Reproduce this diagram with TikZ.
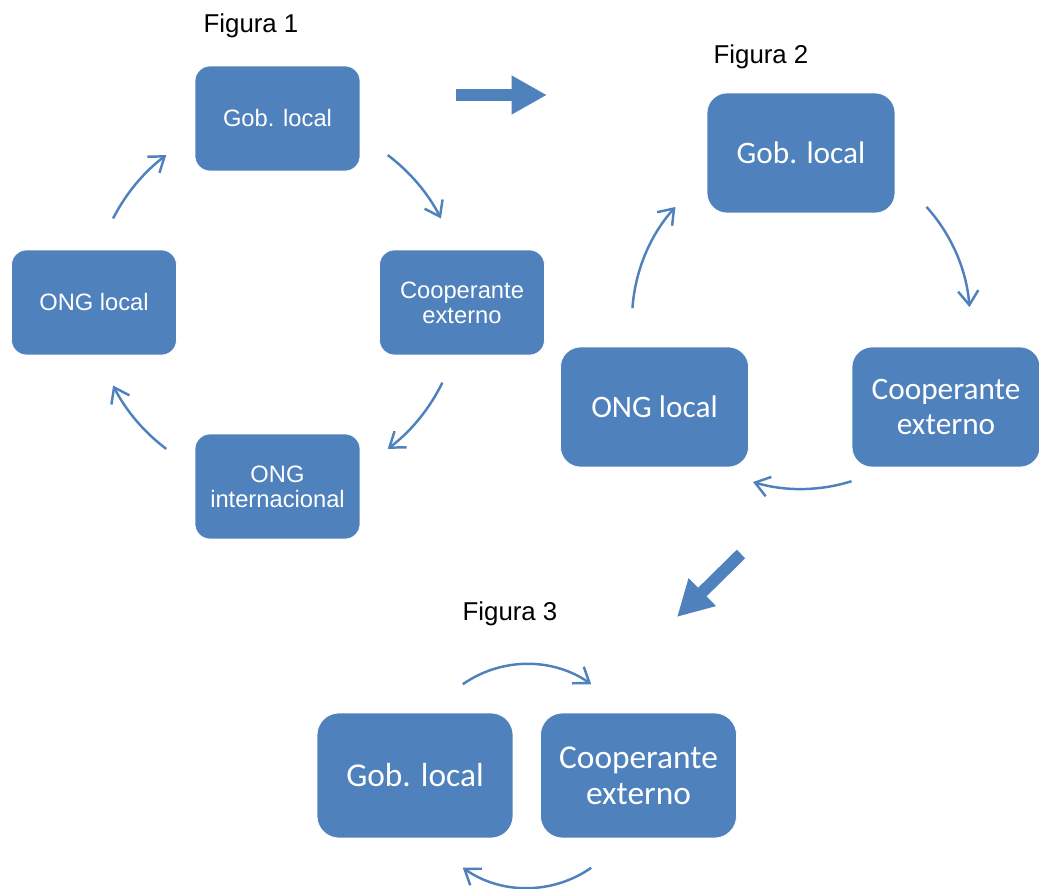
\documentclass[tikz,border=0pt]{standalone}
\usepackage{fontspec}
\setmainfont{Liberation Sans}
\newfontfamily\calibri{Carlito}
\usepackage{xcolor}
\usepackage{tikz}
\usetikzlibrary{calc,arrows.meta}

\definecolor{azul}{HTML}{4F81BD}

\tikzset{
	caja/.style={fill=azul,draw=white,line width=0.4pt,rounded corners=0.3cm,
		text=white,align=center,inner sep=0pt},
	cajaA/.style={caja,minimum width=3.3cm,minimum height=2.1cm,
		font=\fontsize{13.5}{14.2}\selectfont},
	cajaB/.style={caja,rounded corners=0.4cm,minimum width=3.76cm,minimum height=2.4cm,
		font=\calibri\fontsize{17.8}{19.8}\selectfont},
	cajaC/.style={caja,rounded corners=0.44cm,minimum width=3.92cm,minimum height=2.5cm,
		font=\calibri\fontsize{19}{20.4}\selectfont},
	flecha/.style={draw=azul,line width=1.4pt,-{Straight Barb[length=8pt,width=11.5pt]}},
	gruesa/.style={draw=azul,line width=0.24cm,-{Triangle[length=0.71cm,width=0.73cm]}},
	titulo/.style={anchor=base,font=\fontsize{14.7}{16}\selectfont}
}

\begin{document}
\begin{tikzpicture}[x=0.02cm,y=0.02cm]
						\useasboundingbox (0,0) rectangle (1039,-889);
						
						\coordinate (c1) at (277,-302);
						\coordinate (c2) at (801,-320);
						\coordinate (c3) at (527,-776);
						
						\node[titulo] (fig1) at (251,-32) {Figura 1};
						\node[titulo] (fig2) at (761,-63) {Figura 2};
						\node[titulo] (fig3) at (510,-620) {Figura 3};
						
						\node[cajaA] (gob1) at (277.5,-118.5) {Gob. local};
						\node[cajaA] (coop1) at (462,-302.5) {Cooperante\\externo};
						\node[cajaA] (ongi1) at (277.5,-486.5) {ONG\\internacional};
						\node[cajaA] (ongl1) at (94,-302.5) {ONG local};
						
						\node[cajaB] (gob2) at (801,-153) {Gob. local};
						\node[cajaB] (coop2) at (946,-407) {Cooperante\\externo};
						\node[cajaB] (ongl2) at (654.5,-407) {ONG local};
						
						\node[cajaC] (gob3) at (415,-775.5) {Gob. local};
						\node[cajaC] (coop3) at (638.5,-775.5) {Cooperante\\externo};
						
						\foreach \a/\b [count=\i] in {53/27,-26/-53,-127/-153,153/127}
						{
							\coordinate (a1\i) at ($(c1)+(\a:3.68cm)$);
							\draw[flecha] (a1\i) arc[start angle=\a,end angle=\b,radius=3.68cm];
						}
						\foreach \a/\b [count=\i] in {42/4.4,-72.6/-106.5,176/138}
						{
							\coordinate (a2\i) at ($(c2)+(\a:3.38cm)$);
							\draw[flecha] (a2\i) arc[start angle=\a,end angle=\b,radius=3.38cm];
						}
						\foreach \a/\b [count=\i] in {125/55,-55/-125}
						{
							\coordinate (a3\i) at ($(c3)+(\a:2.24cm)$);
							\draw[flecha] (a3\i) arc[start angle=\a,end angle=\b,radius=2.24cm];
						}
						
						\coordinate (g1) at (456,-95);
						\coordinate (g2) at (547,-95);
						\coordinate (g3) at (741,-554);
						\coordinate (g4) at (677,-617);
						\draw[gruesa] (g1) -- (g2);
						\draw[gruesa] (g3) -- (g4);
					\end{tikzpicture}
\end{document}
